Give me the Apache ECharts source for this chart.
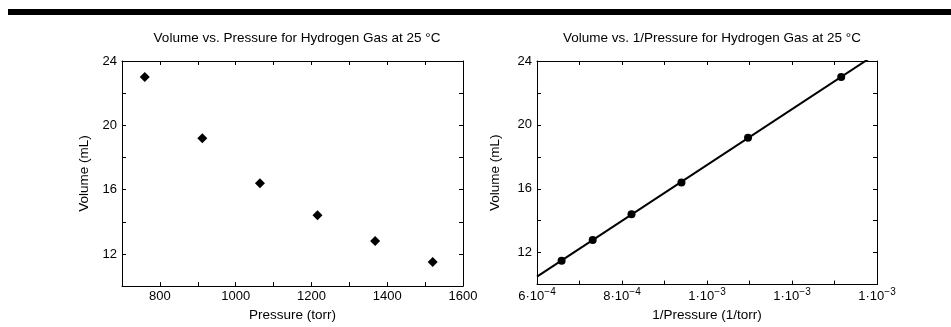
<!DOCTYPE html>
<html>
<head>
<meta charset="utf-8">
<script src="https://cdn.jsdelivr.net/npm/echarts@6/dist/echarts.min.js"></script>
<style>
  html, body { margin: 0; padding: 0; background: #fff; }
  #chart { width: 951px; height: 327px; }
</style>
</head>
<body>
<div id="chart"></div>
<script>
// measured data: pressure (torr) and volume (mL)
const pressure = [760, 912, 1064, 1216, 1368, 1520];
const volume = [23.0, 19.2, 16.4, 14.4, 12.8, 11.5];
const titles = [
  'Volume vs. Pressure for Hydrogen Gas at 25 °C',
  'Volume vs. 1/Pressure for Hydrogen Gas at 25 °C'
];
const invTicks = ['{m|6·10}{e|−4}', '{m|8·10}{e|−4}', '{m|1·10}{e|−3}', '{m|1·10}{e|−3}', '{m|1·10}{e|−3}'];

const FONT = '"Liberation Sans", Arial, Helvetica, sans-serif';
const inv = pressure.map(p => 1 / p);

// least squares fit V = a + b * (1/P)
const n = inv.length;
const mx = inv.reduce((s, v) => s + v, 0) / n;
const my = volume.reduce((s, v) => s + v, 0) / n;
let sxy = 0, sxx = 0;
for (let i = 0; i < n; i++) {
  sxy += (inv[i] - mx) * (volume[i] - my);
  sxx += (inv[i] - mx) * (inv[i] - mx);
}
const slope = sxy / sxx;
const icpt = my - slope * mx;
const fitLine = [0.0006, 0.0014].map(x => [x, icpt + slope * x]);

const chart = echarts.init(document.getElementById('chart'));

const axisCommon = {
  axisLine: { lineStyle: { color: '#000', width: 1 } },
  axisTick: { inside: true, length: 4, lineStyle: { color: '#000' } },
  splitLine: { show: false },
  axisLabel: { color: '#000', fontFamily: FONT, fontSize: 13 },
  nameTextStyle: { color: '#000', fontFamily: FONT, fontSize: 13.5 }
};

function yAxes(gi, gap) {
  return [
    Object.assign({}, axisCommon, {
      type: 'value', gridIndex: gi, min: 10, max: 24, interval: 2,
      name: 'Volume (mL)', nameLocation: 'middle', nameGap: gap,
      axisLabel: Object.assign({}, axisCommon.axisLabel, {
        margin: 5,
        formatter: v => (v % 4 === 0 ? String(v) : '')
      })
    }),
    Object.assign({}, axisCommon, {
      type: 'value', gridIndex: gi, position: 'right', min: 10, max: 24, interval: 2,
      axisLabel: { show: false }
    })
  ];
}

const option = {
  animation: false,
  backgroundColor: '#fff',
  graphic: [
    { type: 'rect', shape: { x: 8, y: 9, width: 943, height: 6 }, style: { fill: '#000' } }
  ],
  title: [
    { text: titles[0], left: 292, top: 26, textAlign: 'center',
      textStyle: { fontFamily: FONT, fontSize: 13.5, fontWeight: 'normal', color: '#000' } },
    { text: titles[1], left: 707, top: 26, textAlign: 'center',
      textStyle: { fontFamily: FONT, fontSize: 13.5, fontWeight: 'normal', color: '#000' } }
  ],
  grid: [
    { left: 122, right: 488, top: 61, bottom: 39 },
    { left: 537, right: 74, top: 61, bottom: 39 }
  ],
  xAxis: [
    Object.assign({}, axisCommon, {
      type: 'value', gridIndex: 0, min: 700, max: 1600, interval: 100,
      name: 'Pressure (torr)', nameLocation: 'middle', nameGap: 18,
      axisLabel: Object.assign({}, axisCommon.axisLabel, {
        margin: 4,
        formatter: v => (v % 200 === 0 ? String(v) : '')
      })
    }),
    Object.assign({}, axisCommon, {
      type: 'value', gridIndex: 0, position: 'top', min: 700, max: 1600, interval: 100,
      axisLabel: { show: false }
    }),
    Object.assign({}, axisCommon, {
      type: 'value', gridIndex: 1, min: 0.0006, max: 0.0014, interval: 0.0001,
      name: '1/Pressure (1/torr)', nameLocation: 'middle', nameGap: 18,
      axisLabel: Object.assign({}, axisCommon.axisLabel, {
        margin: 3,
        formatter: v => {
          const k = Math.round(v * 1e4);
          return k % 2 === 0 ? invTicks[(k - 6) / 2] : '';
        },
        rich: {
          m: { fontFamily: FONT, fontSize: 13, color: '#000' },
          e: { fontFamily: FONT, fontSize: 10, color: '#000', padding: [0, 0, 8, 0] }
        }
      })
    }),
    Object.assign({}, axisCommon, {
      type: 'value', gridIndex: 1, position: 'top', min: 0.0006, max: 0.0014, interval: 0.0001,
      axisLabel: { show: false }
    })
  ],
  yAxis: yAxes(0, 31).concat(yAxes(1, 35)),
  series: [
    {
      type: 'scatter', xAxisIndex: 0, yAxisIndex: 0,
      symbol: 'diamond', symbolSize: 10,
      itemStyle: { color: '#000', opacity: 1 },
      data: pressure.map((p, i) => [p, volume[i]])
    },
    {
      type: 'line', xAxisIndex: 2, yAxisIndex: 2,
      data: fitLine, showSymbol: false, clip: true,
      lineStyle: { color: '#000', width: 2 }
    },
    {
      type: 'scatter', xAxisIndex: 2, yAxisIndex: 2,
      symbol: 'circle', symbolSize: 8,
      itemStyle: { color: '#000', opacity: 1 },
      data: inv.map((x, i) => [x, volume[i]])
    }
  ]
};

chart.setOption(option);
</script>
</body>
</html>
